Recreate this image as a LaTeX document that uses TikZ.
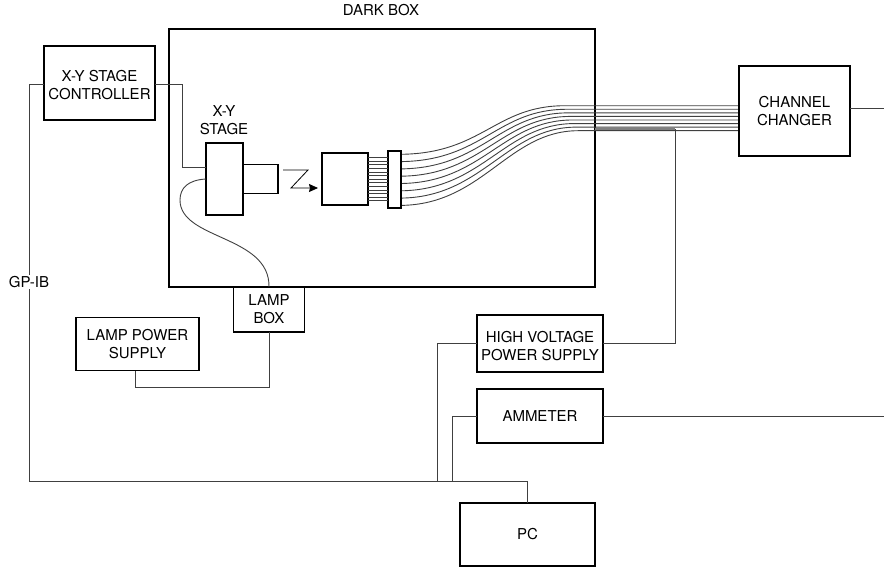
\documentclass[tikz,border=0pt]{standalone}
\usepackage{fontspec}
\setmainfont{TeX Gyre Heros}
\usetikzlibrary{positioning, arrows.meta, calc}
\definecolor{wireColor}{HTML}{404040}
\newcommand{\lowerline}{\rule{0pt}{16pt}}

\begin{document}
\begin{tikzpicture}[
    x=1pt, y=-1pt,
    every node/.style={font=\fontsize{15}{18}\selectfont, align=center},
    boxnode/.style={
        rectangle, draw=black, line width=1.5pt, fill=white,
        inner sep=0pt, outer sep=0pt
    },
    wire/.style={draw=wireColor, line width=0.9pt},
    fibre/.style={draw=wireColor, line width=0.9pt},
    arrow/.style={-{Stealth[length=9pt, width=8pt, inset=1pt]}, line width=0.8pt, draw=black},
]
\useasboundingbox (0,0) rectangle (884,571);

% === DARK BOX ===
\node[boxnode, minimum width=426pt, minimum height=258pt] (dark) at (382,158) {};
\node (darklabel) at (381,10) {DARK BOX};

% === FIBRES (behind the boxes) ===
\foreach \i in {0,...,7} {
    \coordinate (fibstart\i) at (401,{154.3+\i*7.3});
    \coordinate (fibbend\i) at ({565+\i*1.9},{105.7+\i*3.57});
    \coordinate (fibend\i) at (739,{105.7+\i*3.57});
    \draw[fibre] (fibstart\i) .. controls +(82,-1) and +(-70,0) .. (fibbend\i) -- (fibend\i);
}

% === BOXES ===
\node[boxnode, minimum width=111pt, minimum height=74pt] (ctrl) at (99.5,83) {\lowerline X-Y STAGE\\CONTROLLER};
\node[boxnode, minimum width=37pt, minimum height=72pt] (stage) at (224.5,179) {};
\node[boxnode, minimum width=35pt, minimum height=29pt] (lens) at (260.5,179) {};
\node (stagelabel) at (224,120) {X-Y\\STAGE};
\node[boxnode, minimum width=46pt, minimum height=52pt] (pmt) at (345,179) {};
\node[boxnode, minimum width=13pt, minimum height=57pt] (plate) at (394.5,179.5) {};
\node[boxnode, minimum width=111pt, minimum height=90pt] (changer) at (794.5,111) {CHANNEL\\CHANGER};
\node[boxnode, minimum width=71pt, minimum height=45pt] (lampbox) at (269,309.5) {LAMP\\BOX};
\node[boxnode, minimum width=123pt, minimum height=53pt] (lampsup) at (137.5,344) {LAMP POWER\\SUPPLY};
\node[boxnode, minimum width=126pt, minimum height=57pt] (hv) at (540,343.5) {\lowerline HIGH VOLTAGE\\POWER SUPPLY};
\node[boxnode, minimum width=126pt, minimum height=54pt] (amm) at (540,416) {AMMETER};
\node[boxnode, minimum width=135pt, minimum height=63pt] (pc) at (527.5,534.5) {PC};

% --- free ends and bus ---
\coordinate (busleft) at (29,481.5);
\coordinate (busa) at (437,481.5);
\coordinate (busb) at (452,481.5);
\coordinate (rightout) at (884,108);
\coordinate (ammout) at (884,416);

% === FIBRE BUNDLE PMT -> PLATE ===
\foreach \i in {0,...,12} {
    \draw[wire, line width=0.7pt] (pmt.east |- 0,{157.5+\i*3.6}) -- (plate.west |- 0,{157.5+\i*3.6});
}

% === ARROWS ===
% beam from lens to pmt
\coordinate (zig) at (283,170);
\draw[arrow] (zig) -- ++(25,0) -- ++(-17,18) -- ++(27,0);

% controller wires
\draw[wire] ([yshift=-1pt]ctrl.east) -- ++(27,0) |- ([yshift=12pt]stage.west);
\draw[wire] ([yshift=-1pt]ctrl.west) -- (29,84) -- (busleft) -- (busb) -| (pc.north);
\node[fill=white, inner sep=1.5pt] (gpib) at (29,282) {GP-IB};

% lamp wires
\draw[wire] (stage.west)
    .. controls (188,180) and (180,188) .. (180,200)
    .. controls (180,240) and (270,235) .. (lampbox.north);
\draw[wire] (lampbox.south) -- ++(0,55) -| (lampsup.south -| 135,0);

% power supply and ammeter wires
\draw[wire] (hv.west) -| (busa);
\draw[wire] (amm.west) -| (busb);
\draw[wire] (hv.east) -| (675,129);
\draw[draw=gray, line width=2pt] (dark.east |- 0,129) -- (675,129);
\draw[wire] (amm.east) -- (ammout);
\draw[wire] (changer.east |- rightout) -- (rightout);
\end{tikzpicture}
\end{document}
